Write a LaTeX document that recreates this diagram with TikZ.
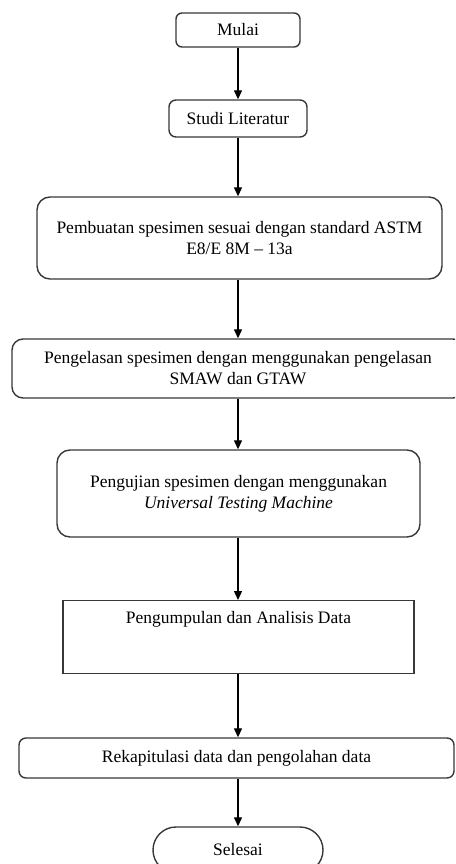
\documentclass[tikz,border=0pt]{standalone}
\usepackage{fontspec}
\setmainfont{Liberation Serif}
\usetikzlibrary{arrows.meta}
\tikzset{
  every node/.style={font=\fontsize{17.5}{21}\selectfont, align=center, inner sep=0pt},
  rbox/.style={draw=black!78, line width=1.4pt, rounded corners=#1},
  rbox/.default=10pt,
  sqbox/.style={draw=black!78, line width=1.4pt},
  flow/.style={draw=black, line width=1.3pt, -{Triangle[length=9pt,width=8pt]}}
}
\begin{document}
\begin{tikzpicture}[x=1pt,y=-1pt]
\useasboundingbox (0,0) rectangle (455,864);
\clip (0,0) rectangle (455,864);
\node[rbox=6pt, minimum width=124pt, minimum height=34pt] (mulai) at (238,30) {Mulai};
\node[rbox=7pt, minimum width=138pt, minimum height=37pt] (studi) at (238,118.5) {Studi Literatur};
\node[rbox=13pt, minimum width=405pt, minimum height=82pt] (buat) at (239.5,238) {Pembuatan spesimen sesuai dengan standard ASTM\\E8/E 8M -- 13a};
\node[rbox=11pt, minimum width=452pt, minimum height=59pt] (las) at (238,368.5) {Pengelasan spesimen dengan menggunakan pengelasan\\SMAW dan GTAW};
\node[rbox=13pt, minimum width=363pt, minimum height=87pt] (uji) at (238.5,493.5) {Pengujian spesimen dengan menggunakan\\\textit{Universal Testing Machine}};
\node[sqbox, anchor=north, minimum width=351pt, text height=23pt, text depth=50pt] (kumpul) at (238.5,600) {Pengumpulan dan Analisis Data};
\node[rbox=7pt, minimum width=435pt, minimum height=40pt] (rekap) at (236.5,758) {Rekapitulasi data dan pengolahan data};
\node[rbox=23pt, minimum width=170pt, minimum height=46pt] (selesai) at (238,850) {Selesai};
\draw[flow] (mulai.south) -- (studi.north);
\draw[flow] (studi.south) -- (studi.south |- buat.north);
\draw[flow] (studi.south |- buat.south) -- (studi.south |- las.north);
\draw[flow] (studi.south |- las.south) -- (studi.south |- uji.north);
\draw[flow] (studi.south |- uji.south) -- (studi.south |- kumpul.north);
\draw[flow] (studi.south |- kumpul.south) -- (studi.south |- rekap.north);
\draw[flow] (studi.south |- rekap.south) -- (selesai.north);
\end{tikzpicture}
\end{document}
